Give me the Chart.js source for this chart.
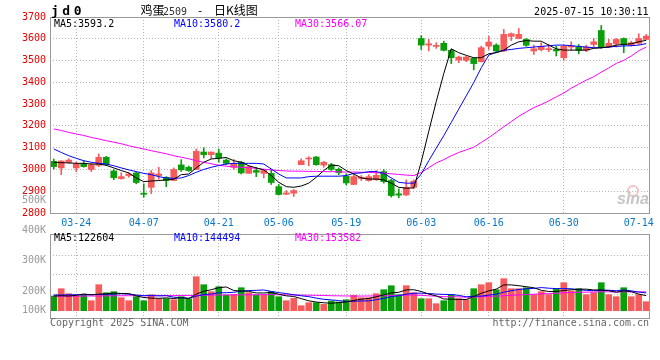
<!DOCTYPE html>
<html>
<head>
<meta charset="utf-8">
<script src="https://cdn.jsdelivr.net/npm/chart.js@4.4.1/dist/chart.umd.min.js"></script>
<style>
html,body{margin:0;padding:0;background:#fff;}
#wrap{position:relative;width:660px;height:360px;background:#fff;}
canvas{position:absolute;left:0;top:0;}
</style>
</head>
<body>
<div id="wrap">
<canvas id="price" width="660" height="360"></canvas>
<canvas id="vol" width="660" height="360"></canvas>
</div>
<script>
// ---------------- data ----------------
const dates = ['03-19','03-20','03-21','03-24','03-25','03-26','03-27','03-28','03-31','04-01',
'04-02','04-03','04-07','04-08','04-09','04-10','04-11','04-14','04-15','04-16',
'04-17','04-18','04-21','04-22','04-23','04-24','04-25','04-28','04-29','04-30',
'05-06','05-07','05-08','05-09','05-12','05-13','05-14','05-15','05-16','05-19',
'05-20','05-21','05-22','05-23','05-26','05-27','05-28','05-29','05-30','06-03',
'06-04','06-05','06-06','06-09','06-10','06-11','06-12','06-13','06-16','06-17',
'06-18','06-19','06-20','06-23','06-24','06-25','06-26','06-27','06-30','07-01',
'07-02','07-03','07-04','07-07','07-08','07-09','07-10','07-11','07-14','07-15'];

const open = [3037,3007,3033,3007,3025,3000,3019,3056,2993,2958,
2972,2984,2891,2918,2972,2964,2949,3021,3010,3000,
3080,3068,3075,3043,3010,3033,2982,2995,2982,2982,
2921,2886,2891,3022,3048,3057,3020,3022,3001,2969,
2931,2958,2949,2953,2990,2949,2888,2883,2918,3601,
3571,3565,3579,3547,3502,3501,3510,3495,3566,3571,
3544,3611,3601,3597,3544,3550,3550,3551,3513,3562,
3562,3547,3574,3638,3563,3577,3601,3571,3579,3597];
const high = [3048,3040,3049,3033,3040,3028,3071,3060,2999,2985,
2985,2988,2934,2995,3010,2967,3007,3045,3016,3094,
3100,3080,3094,3049,3046,3037,3017,3010,3001,2999,
2931,2903,2908,3049,3059,3060,3037,3028,3007,2979,
2976,2972,2976,2995,2999,2955,2911,2952,2952,3615,
3597,3582,3589,3551,3521,3521,3513,3566,3611,3577,
3643,3627,3647,3601,3571,3582,3574,3566,3571,3586,
3574,3571,3601,3661,3597,3601,3604,3589,3623,3620];
const low = [3002,2976,3028,2990,3010,2990,3013,3017,2953,2955,
2964,2934,2873,2889,2955,2921,2949,2991,2991,3000,
3053,3050,3033,3022,3000,2979,2982,2967,2961,2931,
2882,2885,2876,3022,3017,3019,3010,2995,2976,2929,
2931,2949,2946,2949,2937,2873,2870,2880,2911,3551,
3544,3556,3544,3486,3490,3495,3457,3493,3551,3541,
3541,3592,3600,3565,3528,3544,3541,3521,3501,3547,
3531,3541,3562,3556,3559,3562,3536,3566,3574,3597];
const close = [3013,3039,3043,3025,3013,3022,3056,3024,2962,2967,
2979,2940,2886,2984,2979,2949,3000,2998,2995,3083,
3068,3080,3053,3028,3028,2984,3013,2987,2995,2940,
2885,2892,2903,3040,3052,3022,3033,3000,2985,2938,
2967,2964,2967,2973,2944,2880,2882,2918,2946,3571,
3577,3570,3547,3513,3516,3516,3486,3559,3585,3544,
3620,3623,3620,3570,3554,3565,3553,3544,3566,3568,
3547,3562,3586,3559,3579,3597,3574,3582,3601,3612];

const ma5 = [3033,3031,3030,3028,3028,3025,3025,3019,3007,2995,
2984,2961,2944,2947,2949,2952,2955,2976,2979,3007,
3033,3048,3051,3055,3040,3033,3017,3007,2998,2972,
2941,2921,2918,2924,2937,2964,2995,3020,3017,2995,
2979,2961,2956,2956,2952,2937,2918,2914,2915,3035,
3175,3312,3440,3554,3536,3524,3513,3513,3531,3536,
3547,3571,3586,3592,3589,3589,3571,3554,3548,3548,
3548,3548,3556,3559,3562,3571,3574,3577,3586,3593];
const ma10 = [3094,3078,3063,3051,3040,3033,3028,3025,3017,3007,
2998,2990,2982,2976,2967,2961,2959,2961,2972,2987,
3000,3010,3018,3025,3028,3028,3028,3028,3025,3002,
2979,2961,2961,2961,2967,2969,2969,2969,2969,2972,
2982,2984,2990,2990,2982,2961,2941,2937,2937,2979,
3040,3098,3155,3216,3277,3338,3399,3467,3525,3538,
3547,3551,3556,3559,3562,3565,3568,3571,3571,3568,
3565,3562,3559,3559,3562,3565,3567,3568,3571,3578];
const ma30 = [3186,3179,3170,3163,3156,3147,3140,3132,3125,3118,
3109,3101,3094,3086,3079,3072,3063,3056,3049,3040,
3033,3026,3019,3015,3012,3010,3008,3005,3001,2998,
2995,2993,2992,2992,2991,2991,2990,2990,2989,2988,
2988,2987,2986,2985,2983,2980,2977,2974,2972,2986,
3008,3030,3045,3063,3078,3090,3102,3124,3146,3171,
3196,3220,3244,3264,3284,3298,3315,3333,3351,3373,
3392,3410,3426,3447,3466,3487,3501,3521,3545,3562];

const volume = [119500,179200,138500,119500,124900,81500,211800,146600,154800,105900,
81500,114000,81500,130300,97700,97700,89600,114000,97700,276900,
211800,154800,195500,127600,133000,187300,146600,127600,127600,154800,
114000,81500,100500,40700,65200,65200,51600,78700,70600,89600,
124900,105900,105900,138500,171000,203600,130300,203600,146600,97700,
97700,57000,81500,130300,97700,89600,179200,211800,228100,171000,
260600,179200,179200,187300,130300,154800,130300,179200,228100,160200,
179200,130300,146600,228100,130300,114000,187300,114000,130300,73300];
const volMa5 = [119500,122000,119500,125000,136300,128700,135200,136900,143900,140100,
140100,120600,107500,102600,101000,104200,99400,105900,99300,135200,
158000,171000,187300,193300,164500,159600,158000,144400,144400,148800,
134100,121100,115700,98300,80400,70600,64600,60300,66300,71100,
83100,93900,99400,113000,129200,145000,149900,169400,171000,156400,
135200,120500,96100,92800,92800,91200,115700,141700,161300,175900,
210100,210100,203600,195500,187300,166200,156400,156400,164500,170500,
175400,175400,168900,168900,162900,149900,161300,154700,135200,122600];
const volMa10 = [128000,128000,129000,130000,130000,131000,132000,133000,135000,138200,
134400,127900,122200,123300,120600,122200,110000,106700,101000,118100,
131100,135200,146600,146300,149900,158800,164500,165900,168900,156700,
146900,139600,130100,121400,114600,102400,92900,88000,82300,75800,
76900,79300,79900,89700,100200,114100,121900,134400,142000,142800,
140100,135200,132800,131900,124600,113200,118100,118900,127100,134400,
150700,162900,172700,178400,181600,188200,183300,180000,180000,178900,
170800,165900,162700,166700,166700,162700,168400,161800,152100,144500];
const volMa30 = [118000,118000,119000,119000,119000,120000,120000,121000,121000,122000,
122000,122000,122000,122000,123000,123000,123000,124000,124000,125000,
126000,127000,128000,128000,129000,129000,130000,130000,131000,131000,
130000,129000,128000,127000,126000,125000,124000,122000,121000,120000,
119000,119000,120000,120000,121000,123000,125000,127000,128000,125000,
121000,118000,114000,114000,113000,110000,111000,114000,117000,118000,
122000,126000,128000,132000,134000,137000,139000,142000,146000,148000,
150000,151000,152000,154000,154000,153000,154000,153000,153000,153600];

const priceTicks = [2800,2900,3000,3100,3200,3300,3400,3500,3600,3700];
const dateTicks = ['03-24','04-07','04-21','05-06','05-19','06-03','06-16','06-30','07-14'];
const gridDates = ['03-24','04-07','04-21','05-06','05-19','06-03','06-16','06-30'];
const volTickLabels = ['500K','400K','300K','200K','100K'];
const volGridValues = [127900,293200,450400];
const priceLegend = ['MA5:3593.2','MA10:3580.2','MA30:3566.07'];
const volLegend = ['MA5:122604','MA10:144494','MA30:153582'];
const titleCode = 'jd0';
const titleName = '鸡蛋';
const titleContract = '2509';
const titleDash = '-';
const titleKind = '日K线图';
const timestamp = '2025-07-15 10:30:11';
const copyright = 'Copyright 2025 SINA.COM';
const siteUrl = 'http://finance.sina.com.cn';
const watermark = 'sina';

// ---------------- styling ----------------
const RED = '#f65a5a', GREEN = '#0a9f0a';
const C_MA5 = '#000000', C_MA10 = '#0000ff', C_MA30 = '#ff00ff';
const MONO = "'DejaVu Sans Mono', 'Liberation Mono', monospace";
const CJK = "'Noto Sans CJK SC', 'Noto Sans', sans-serif";
const GRID = '#b4b4b4';
const legendColors = [C_MA5, C_MA10, C_MA30];

const barColors = close.map((c, i) => c >= open[i] ? RED : GREEN);
const dateSet = new Set(dateTicks);
const gridSet = new Set(gridDates);

const framePlugin = {
  id: 'frame',
  afterDraw(chart) {
    const {ctx, chartArea: a} = chart;
    ctx.save();
    ctx.strokeStyle = '#999';
    ctx.lineWidth = 1;
    ctx.strokeRect(Math.round(a.left) + 0.5, Math.round(a.top) + 0.5,
      Math.round(a.right - a.left) - 1, Math.round(a.bottom - a.top));
    ctx.restore();
  }
};

const xGridColor = (ctx) => {
  const lbl = dates[ctx.index];
  return (ctx.tick && gridSet.has(lbl)) ? GRID : 'rgba(0,0,0,0)';
};

const priceText = {
  id: 'priceText',
  afterDraw(chart) {
    const ctx = chart.ctx, a = chart.chartArea;
    ctx.save();
    ctx.textBaseline = 'alphabetic';
    ctx.textAlign = 'left';
    ctx.fillStyle = '#000';
    ctx.font = `bold 13px ${MONO}`;
    if ('letterSpacing' in ctx) ctx.letterSpacing = '3.5px';
    ctx.fillText(titleCode, 51, 15);
    if ('letterSpacing' in ctx) ctx.letterSpacing = '0px';
    ctx.font = `12px ${CJK}`;
    ctx.fillText(titleName, 140.5, 15);
    ctx.font = `10px ${MONO}`;
    ctx.fillStyle = '#333';
    ctx.fillText(titleContract, 163, 15);
    ctx.fillStyle = '#000';
    ctx.font = `12px ${CJK}`;
    ctx.fillText(titleDash, 198, 15);
    ctx.fillText(titleKind, 214, 15);
    ctx.font = `10px ${MONO}`;
    ctx.textAlign = 'right';
    ctx.fillText(timestamp, 648.5, 15);
    // legend
    ctx.textAlign = 'left';
    const lx = [a.left + 4, a.left + 124, a.left + 245];
    priceLegend.forEach((t, i) => { ctx.fillStyle = legendColors[i]; ctx.fillText(t, lx[i], a.top + 10); });
    // watermark
    ctx.strokeStyle = '#f2c4c4';
    ctx.lineWidth = 2;
    ctx.beginPath(); ctx.arc(a.right - 17, a.bottom - 22, 5, 0, Math.PI * 2); ctx.stroke();
    ctx.fillStyle = '#c6c6c6';
    ctx.font = `italic bold 16px 'Liberation Sans', Arial, sans-serif`;
    ctx.textAlign = 'right';
    ctx.fillText(watermark, a.right - 1, a.bottom - 9);
    ctx.restore();
  }
};

const volText = {
  id: 'volText',
  afterDraw(chart) {
    const ctx = chart.ctx, a = chart.chartArea;
    ctx.save();
    ctx.font = `10px ${MONO}`;
    ctx.textBaseline = 'middle';
    ctx.textAlign = 'right';
    ctx.fillStyle = '#999';
    const ly = [a.top - 34, a.top - 3.5, a.top + 26.5, a.top + 57, a.top + 76.5];
    volTickLabels.forEach((t, i) => ctx.fillText(t, a.left - 4, ly[i]));
    ctx.textAlign = 'left';
    const lx = [a.left + 4, a.left + 124, a.left + 245];
    volLegend.forEach((t, i) => { ctx.fillStyle = legendColors[i]; ctx.fillText(t, lx[i], a.top + 4.5); });
    ctx.fillStyle = '#666';
    ctx.fillText(copyright, a.left, a.bottom + 5.5);
    ctx.textAlign = 'right';
    ctx.fillText(siteUrl, a.right - 1, a.bottom + 5.5);
    ctx.restore();
  }
};

const lineDs = (data, color) => ({
  type: 'line', data, borderColor: color, borderWidth: 1, pointRadius: 0,
  tension: 0, fill: false, order: 0
});

new Chart(document.getElementById('price'), {
  type: 'bar',
  data: {
    labels: dates,
    datasets: [
      lineDs(ma5, C_MA5), lineDs(ma10, C_MA10), lineDs(ma30, C_MA30),
      { data: open.map((o, i) => [o, close[i]]), backgroundColor: barColors,
        barThickness: 6, grouped: false, minBarLength: 1, order: 1 },
      { data: low.map((l, i) => [l, high[i]]), backgroundColor: barColors,
        barThickness: 1, grouped: false, order: 2 }
    ]
  },
  options: {
    responsive: false, animation: false, devicePixelRatio: 1,
    layout: { padding: { top: 17, right: 10, bottom: 127, left: 0 } },
    plugins: { legend: { display: false }, tooltip: { enabled: false } },
    scales: {
      x: {
        type: 'category', offset: true,
        grid: { offset: false, color: xGridColor, drawTicks: false, lineWidth: 1 },
        border: { display: false, dash: [1, 2] },
        ticks: {
          autoSkip: false, maxRotation: 0, minRotation: 0, padding: 4,
          color: '#0b78cc', font: { family: MONO, size: 10 },
          callback: function (v, i) { const l = dates[i]; return dateSet.has(l) ? l : ''; }
        },
        afterFit: s => { s.height = 20; }
      },
      y: {
        min: priceTicks[0], max: priceTicks[priceTicks.length - 1],
        afterBuildTicks: s => { s.ticks = priceTicks.map(v => ({ value: v })); },
        grid: {
          drawTicks: false,
          color: c => (c.tick && (c.tick.value === priceTicks[0] || c.tick.value === priceTicks[priceTicks.length - 1])) ? 'rgba(0,0,0,0)' : GRID
        },
        border: { display: false, dash: [1, 2] },
        ticks: { padding: 4, color: '#e60000', font: { family: MONO, size: 10 }, callback: v => String(v) },
        afterFit: s => { s.width = 50; }
      }
    }
  },
  plugins: [framePlugin, priceText]
});

new Chart(document.getElementById('vol'), {
  type: 'bar',
  data: {
    labels: dates,
    datasets: [
      lineDs(volMa5, C_MA5), lineDs(volMa10, C_MA10), lineDs(volMa30, C_MA30),
      { data: volume, backgroundColor: barColors, barThickness: 6, grouped: false, order: 1 }
    ]
  },
  options: {
    responsive: false, animation: false, devicePixelRatio: 1,
    layout: { padding: { top: 234, right: 10, bottom: 42, left: 0 } },
    plugins: { legend: { display: false }, tooltip: { enabled: false } },
    scales: {
      x: {
        type: 'category', offset: true,
        grid: { offset: false, color: xGridColor, drawTicks: false },
        border: { display: false, dash: [1, 2] },
        ticks: { display: false, autoSkip: false, maxRotation: 0 },
        afterFit: s => { s.height = 0; }
      },
      y: {
        min: -59460, max: 624700,
        afterBuildTicks: s => { s.ticks = volGridValues.map(v => ({ value: v })); },
        grid: { drawTicks: false, color: GRID },
        border: { display: false, dash: [1, 2] },
        ticks: { display: false },
        afterFit: s => { s.width = 50; }
      }
    }
  },
  plugins: [framePlugin, volText]
});
</script>
</body>
</html>
